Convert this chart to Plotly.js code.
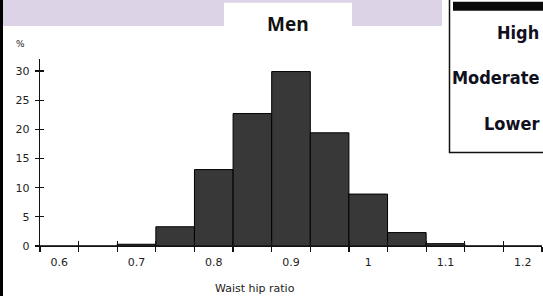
<!DOCTYPE html>
<html>
<head>
<meta charset="utf-8">
<script src="https://cdn.plot.ly/plotly-3.0.1.min.js"></script>
<style>html,body{margin:0;padding:0;background:#fff;}#chart{width:543px;height:296px;}</style>
</head>
<body>
<div id="chart"></div>
<script>
// Data
const binCenters = [0.6, 0.65, 0.7, 0.75, 0.8, 0.85, 0.9, 0.95, 1.0, 1.05, 1.1, 1.15, 1.2];
const percentMen = [0, 0, 0.3, 3.3, 13.1, 22.7, 29.9, 19.4, 8.9, 2.3, 0.4, 0, 0];
const xTickValues = [0.6, 0.7, 0.8, 0.9, 1.0, 1.1, 1.2];
const xTickLabels = ['0.6', '0.7', '0.8', '0.9', '1', '1.1', '1.2'];
const yTickValues = [0, 5, 10, 15, 20, 25, 30];
const riskLabels = ['High', 'Moderate', 'Lower'];
const panelTitle = 'Men';
const xTitle = 'Waist hip ratio';
const yUnit = '%';

const binWidth = 0.05;
const binEdges = binCenters.map(c => +(c - binWidth / 2).toFixed(3)).concat([+(binCenters[binCenters.length - 1] + binWidth / 2).toFixed(3)]);

const W = 543, H = 296;
const px = v => v / W;
const py = v => 1 - v / H;

const xRange = [binEdges[0], binEdges[binEdges.length - 1]];
const yRange = [0, 32];
const xDom = [px(40), px(542)];
const yDom = [py(246), py(59.3)];
const tickFont = {family: 'DejaVu Sans, Verdana, sans-serif', size: 11, color: '#222'};

const traces = [
  {type: 'bar', x: binCenters, y: percentMen, width: binWidth,
   marker: {color: '#383838', line: {color: '#000', width: 1}},
   hoverinfo: 'x+y', xaxis: 'x', yaxis: 'y'},
  {type: 'scatter', x: [binCenters[0]], y: [0], mode: 'none', xaxis: 'x2', yaxis: 'y2', hoverinfo: 'skip', showlegend: false},
  {type: 'scatter', x: [binCenters[0]], y: [0], mode: 'none', xaxis: 'x3', yaxis: 'y3', hoverinfo: 'skip', showlegend: false}
];

const baseX = {range: xRange, domain: xDom, showgrid: false, zeroline: false, fixedrange: true};
const baseY = {range: yRange, domain: yDom, showgrid: false, zeroline: false, fixedrange: true};

const riskY = [32, 78, 123];

const layout = {
  width: W, height: H,
  margin: {l: 0, r: 0, t: 0, b: 0},
  paper_bgcolor: '#fff', plot_bgcolor: 'rgba(0,0,0,0)',
  showlegend: false,
  bargap: 0,
  xaxis: Object.assign({}, baseX, {
    anchor: 'y', tickmode: 'array', tickvals: xTickValues, ticktext: xTickLabels,
    ticks: '', showline: true, linecolor: '#111', linewidth: 1.3,
    tickfont: tickFont, ticklabelstandoff: 5
  }),
  xaxis2: Object.assign({}, baseX, {
    anchor: 'y2', overlaying: 'x', tickmode: 'array', tickvals: binEdges,
    ticks: 'outside', ticklen: 5, tickwidth: 1.2, tickcolor: '#111', showticklabels: false, showline: false
  }),
  xaxis3: Object.assign({}, baseX, {
    anchor: 'y3', overlaying: 'x', tickmode: 'array', tickvals: binEdges,
    ticks: 'inside', ticklen: 5, tickwidth: 1.2, tickcolor: '#111', showticklabels: false, showline: false
  }),
  yaxis: Object.assign({}, baseY, {
    anchor: 'x', tickmode: 'array', tickvals: yTickValues,
    ticks: 'outside', ticklen: 4, tickwidth: 1.2, tickcolor: '#111',
    showline: true, linecolor: '#111', linewidth: 1.3,
    tickfont: tickFont, ticklabelstandoff: 3
  }),
  yaxis2: Object.assign({}, baseY, {
    anchor: 'x2', overlaying: 'y', tickmode: 'array', tickvals: yTickValues,
    ticks: 'inside', ticklen: 4, tickwidth: 1.2, tickcolor: '#111', showticklabels: false, showline: false
  }),
  yaxis3: Object.assign({}, baseY, {
    anchor: 'x3', overlaying: 'y', showticklabels: false, ticks: '', showline: false
  }),
  shapes: [
    {type: 'rect', xref: 'paper', yref: 'paper', x0: px(3), x1: px(442), y0: py(0), y1: py(26), fillcolor: '#dcd3e6', line: {width: 0}, layer: 'below'},
    {type: 'rect', xref: 'paper', yref: 'paper', x0: px(224), x1: px(352), y0: py(2.7), y1: py(26), fillcolor: '#ffffff', line: {width: 0}, layer: 'below'},
    {type: 'rect', xref: 'paper', yref: 'paper', x0: px(0), x1: px(3), y0: py(0), y1: py(296), fillcolor: '#000', line: {width: 0}},
    {type: 'rect', xref: 'paper', yref: 'paper', x0: px(449.5), x1: px(548), y0: py(-3), y1: py(152.5), fillcolor: 'rgba(0,0,0,0)', line: {color: '#111', width: 1.5}},
    {type: 'rect', xref: 'paper', yref: 'paper', x0: px(453), x1: px(548), y0: py(1.7), y1: py(10.7), fillcolor: '#0a0a0a', line: {width: 0}}
  ],
  annotations: [
    {text: '<b>' + panelTitle + '</b>', xref: 'paper', yref: 'paper', x: px(287.5), y: py(24), xanchor: 'center', yanchor: 'middle', showarrow: false,
     font: {family: 'Open Sans, Noto Sans, sans-serif', size: 19, color: '#111'}},
    {text: yUnit, xref: 'paper', yref: 'paper', x: px(20.5), y: py(44), xanchor: 'center', yanchor: 'middle', showarrow: false,
     font: {family: 'DejaVu Sans, sans-serif', size: 9, color: '#222'}},
    {text: xTitle, xref: 'paper', yref: 'paper', x: px(255), y: py(288), xanchor: 'center', yanchor: 'middle', showarrow: false,
     font: {family: 'DejaVu Sans, Verdana, sans-serif', size: 11, color: '#222'}}
  ].concat(riskLabels.map((t, i) => ({
    text: '<b>' + t + '</b>', xref: 'paper', yref: 'paper', x: px(541), y: py(riskY[i]), xanchor: 'right', yanchor: 'middle', showarrow: false,
    font: {family: 'DejaVu Sans Condensed, Liberation Sans Narrow, sans-serif', size: 18, color: '#101020'}
  })))
};

Plotly.newPlot('chart', traces, layout, {displayModeBar: false, staticPlot: true});
</script>
</body>
</html>
